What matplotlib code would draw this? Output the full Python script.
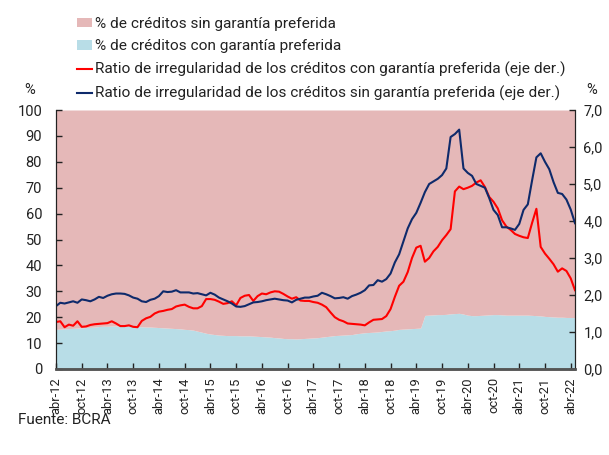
import matplotlib
matplotlib.use("Agg")
import matplotlib.pyplot as plt
import numpy as np
from matplotlib.patches import Patch
from matplotlib.lines import Line2D
import matplotlib.ticker as mticker

plt.rcParams['font.family'] = ['Roboto', 'DejaVu Sans']

# Monthly data, abr-12 .. may-22 (122 months)

# % de créditos con garantía preferida (left axis)
con_garantia_pct = [
    15.3, 15.4, 15.5, 15.6, 15.7, 15.8, 15.9, 16.0, 16.1, 16.2,
    16.4, 16.5, 16.5, 16.6, 16.6, 16.6, 16.6, 16.5, 16.5, 16.4,
    16.3, 16.2, 16.2, 16.1, 16.0, 15.9, 15.8, 15.7, 15.6, 15.5,
    15.3, 15.2, 15.0, 14.6, 14.2, 13.8, 13.5, 13.3, 13.1, 13.0,
    12.9, 12.9, 12.9, 12.8, 12.8, 12.8, 12.7, 12.6, 12.5, 12.4,
    12.3, 12.1, 12.0, 11.8, 11.7, 11.7, 11.6, 11.7, 11.8, 11.9,
    12.0, 12.1, 12.3, 12.5, 12.7, 12.9, 13.0, 13.1, 13.2, 13.3,
    13.6, 13.8, 14.0, 14.1, 14.2, 14.3, 14.5, 14.7, 14.8, 15.0,
    15.3, 15.4, 15.5, 15.6, 15.7, 15.8, 20.7, 20.8, 20.9, 21.0,
    21.0, 21.1, 21.3, 21.4, 21.5, 21.2, 20.8, 20.6, 20.6, 20.7,
    20.8, 20.9, 21.0, 21.0, 20.9, 20.8, 20.8, 20.8, 20.8, 20.8,
    20.8, 20.7, 20.6, 20.5, 20.3, 20.2, 20.1, 20.0, 20.0, 19.9,
    19.9, 19.8,
]

# Ratio de irregularidad con garantía preferida (right axis)
irreg_con = [
    1.27, 1.29, 1.13, 1.20, 1.17, 1.29, 1.14, 1.15, 1.19, 1.21,
    1.22, 1.23, 1.24, 1.29, 1.23, 1.16, 1.16, 1.18, 1.14, 1.13,
    1.30, 1.37, 1.41, 1.50, 1.55, 1.57, 1.60, 1.62, 1.69, 1.72,
    1.74, 1.68, 1.64, 1.64, 1.70, 1.89, 1.89, 1.87, 1.82, 1.76,
    1.78, 1.83, 1.72, 1.92, 1.98, 2.00, 1.84, 1.97, 2.04, 2.02,
    2.07, 2.10, 2.09, 2.03, 1.96, 1.90, 1.94, 1.85, 1.84, 1.84,
    1.81, 1.79, 1.74, 1.67, 1.53, 1.40, 1.33, 1.29, 1.23, 1.22,
    1.21, 1.20, 1.18, 1.26, 1.33, 1.34, 1.35, 1.43, 1.62, 1.95,
    2.25, 2.36, 2.62, 3.00, 3.28, 3.33, 2.90, 3.00, 3.18, 3.30,
    3.48, 3.62, 3.78, 4.80, 4.93, 4.86, 4.90, 4.95, 5.04, 5.10,
    4.92, 4.65, 4.52, 4.34, 4.02, 3.85, 3.76, 3.65, 3.60, 3.56,
    3.54, 3.95, 4.33, 3.30, 3.12, 2.98, 2.83, 2.63, 2.72, 2.65,
    2.45, 2.13,
]

# Ratio de irregularidad sin garantía preferida (right axis)
irreg_sin = [
    1.70, 1.79, 1.77, 1.80, 1.83, 1.79, 1.88, 1.86, 1.83, 1.88,
    1.95, 1.92, 1.98, 2.02, 2.04, 2.04, 2.03, 1.99, 1.93, 1.90,
    1.83, 1.81, 1.87, 1.90, 1.97, 2.10, 2.08, 2.09, 2.13, 2.07,
    2.07, 2.07, 2.04, 2.05, 2.02, 1.99, 2.06, 2.01, 1.93, 1.88,
    1.83, 1.77, 1.69, 1.68, 1.70, 1.75, 1.80, 1.81, 1.83, 1.86,
    1.88, 1.90, 1.88, 1.86, 1.85, 1.80, 1.87, 1.90, 1.93, 1.93,
    1.96, 1.98, 2.06, 2.02, 1.97, 1.91, 1.92, 1.94, 1.90, 1.97,
    2.01, 2.06, 2.13, 2.26, 2.27, 2.40, 2.36, 2.43, 2.58, 2.88,
    3.10, 3.45, 3.80, 4.05, 4.22, 4.49, 4.78, 5.00, 5.07, 5.14,
    5.24, 5.42, 6.27, 6.35, 6.47, 5.42, 5.30, 5.22, 5.00, 4.95,
    4.90, 4.62, 4.30, 4.16, 3.83, 3.83, 3.80, 3.76, 3.92, 4.30,
    4.45, 5.10, 5.72, 5.83, 5.60, 5.40, 5.05, 4.76, 4.73, 4.58,
    4.31, 3.94,
]

tick_labels = ['abr-12', 'oct-12', 'abr-13', 'oct-13', 'abr-14', 'oct-14', 'abr-15',
               'oct-15', 'abr-16', 'oct-16', 'abr-17', 'oct-17', 'abr-18', 'oct-18',
               'abr-19', 'oct-19', 'abr-20', 'oct-20', 'abr-21', 'oct-21', 'abr-22']

labels = ['% de créditos sin garantía preferida',
          '% de créditos con garantía preferida',
          'Ratio de irregularidad de los créditos con garantía preferida (eje der.)',
          'Ratio de irregularidad de los créditos sin garantía preferida (eje der.)']

c_pink = '#E5B8B8'
c_lblue = '#B8DDE7'
c_red = '#FF0000'
c_navy = '#0E2A6B'
c_text = '#222222'

n = len(con_garantia_pct)
x = np.arange(n)
con = np.array(con_garantia_pct)

fig = plt.figure(figsize=(6.09, 4.55), dpi=100)
ax = fig.add_axes([56/609, 1-369/455, (575-56)/609, (369-110)/455])

ax.fill_between(x, 0, con, color=c_lblue, lw=0)
ax.fill_between(x, con, 100, color=c_pink, lw=0)
ax.set_xlim(0, n - 1)
ax.set_ylim(0, 100)
ax.set_yticks(np.arange(0, 101, 10))
ax.set_xticks(np.arange(0, 121, 6))
ax.set_xticklabels(tick_labels, rotation=90)

ax2 = ax.twinx()
ax2.plot(x, irreg_con, color=c_red, lw=1.5)
ax2.plot(x, irreg_sin, color=c_navy, lw=1.5)
ax2.set_ylim(0, 7)
ax2.set_yticks(np.arange(0, 7.01, 1))
ax2.yaxis.set_major_formatter(mticker.FuncFormatter(lambda v, p: f'{v:.1f}'.replace('.', ',')))

for a in (ax, ax2):
    a.spines['top'].set_visible(False)
    a.spines['left'].set_color('#222222')
    a.spines['right'].set_color('#222222')
    a.spines['bottom'].set_color('#555555')
    a.spines['bottom'].set_linewidth(1.8)
    a.tick_params(direction='in', length=4, width=1, colors='#222222',
                  labelsize=10.5, labelcolor=c_text)
ax.tick_params(axis='y', pad=10)
ax2.tick_params(axis='y', pad=6)
ax.tick_params(axis='x', pad=6, labelsize=9.3)

fig.text(30/609, 1-90/455, '%', fontsize=10.5, color=c_text, ha='center', va='center')
fig.text(592/609, 1-90/455, '%', fontsize=10.5, color=c_text, ha='center', va='center')
fig.text(18/609, 1-420/455, 'Fuente: BCRA', fontsize=11, color=c_text, ha='left', va='center')

handles = [Patch(facecolor=c_pink, edgecolor='none'),
           Patch(facecolor=c_lblue, edgecolor='none'),
           Line2D([], [], color=c_red, lw=1.5),
           Line2D([], [], color=c_navy, lw=1.5)]
fig.legend(handles, labels, loc='upper left', bbox_to_anchor=(77/609, 1-17/455),
           frameon=False, fontsize=11.1, handlelength=1.0, handleheight=0.6,
           handletextpad=0.17, labelspacing=0.55, borderaxespad=0, borderpad=0,
           labelcolor=c_text)

fig.savefig('out.png', dpi=100)
